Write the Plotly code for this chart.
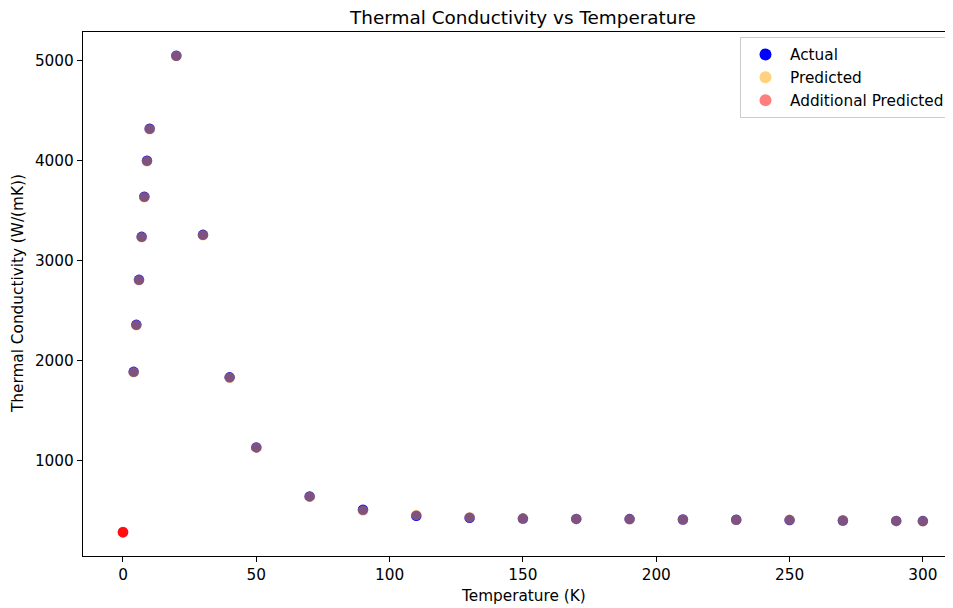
import plotly.graph_objects as go

# ---- data ----
temperature = [4, 5, 6, 7, 8, 9, 10, 20, 30, 40, 50, 70, 90, 110, 130, 150, 170, 190, 210, 230, 250, 270, 290, 300]
actual = [1890, 2360, 2810, 3240, 3640, 4000, 4320, 5050, 3260, 1835, 1135, 645, 512, 452, 432, 423, 420, 418, 414, 411, 408, 404, 400, 398]
predicted = [1885, 2355, 2805, 3236, 3636, 3996, 4316, 5048, 3256, 1832, 1132, 642, 503, 458, 436, 425, 418, 416, 413, 410, 412, 407, 398, 396]
additional_temperature = [0, 0, 0, 0]
additional_predicted = [285, 287, 289, 290]

x_ticks = [0, 50, 100, 150, 200, 250, 300]
y_ticks = [1000, 2000, 3000, 4000, 5000]

FONT = "DejaVu Sans"
FS = 15.3
OFF = 8  # browser body margin

W, H = 953 - OFF, 608 - OFF
L, T, B = 83 - OFF, 32 - OFF, 608 - 556
PW, PH = W - L, H - T - B

fig = go.Figure()
fig.add_trace(go.Scatter(
    x=temperature, y=actual, mode="markers", name="Actual", legendgroup="a",
    marker=dict(color="rgb(0,0,255)", size=10.5, line=dict(width=0)),
))
fig.add_trace(go.Scatter(
    x=temperature, y=predicted, mode="markers", name="Predicted", legendgroup="p",
    marker=dict(color="rgb(255,165,0)", size=10.5, opacity=0.5, line=dict(width=0)),
))
fig.add_trace(go.Scatter(
    x=additional_temperature, y=additional_predicted, mode="markers",
    name="Additional Predicted", legendgroup="ap",
    marker=dict(color="rgb(255,0,0)", size=10.5, opacity=0.5, line=dict(width=0)),
))

axis_common = dict(
    showgrid=False, zeroline=False, showline=True, linecolor="black", linewidth=1.2,
    ticks="outside", ticklen=5, tickwidth=1.2, tickcolor="black",
    tickfont=dict(family=FONT, size=FS, color="black"),
)

fig.update_layout(
    width=W, height=H,
    margin=dict(l=L, r=0, t=T, b=B, autoexpand=False),
    paper_bgcolor="white", plot_bgcolor="white",
    font=dict(family=FONT, size=FS, color="black"),
    title=dict(text="Thermal Conductivity vs Temperature", x=(523 - OFF) / W, xref="container",
               xanchor="center", y=1 - (18 - OFF) / H, yref="container", yanchor="middle",
               font=dict(family=FONT, size=18.4, color="black")),
    xaxis=dict(range=[-15, 311.3], tickvals=x_ticks, mirror=True, **axis_common),
    yaxis=dict(range=[49, 5288], tickvals=y_ticks, **axis_common),
    showlegend=True,
    legend=dict(x=(740 - 83) / PW, y=(556 - 37) / PH, xanchor="left", yanchor="top",
                bgcolor="rgba(255,255,255,0.8)", bordercolor="#cccccc", borderwidth=1,
                font=dict(family=FONT, size=FS, color="black"), tracegroupgap=0,
                itemsizing="constant", itemwidth=39),
    annotations=[
        dict(text="Temperature (K)", xref="paper", yref="paper",
             x=(523 - 83) / PW, y=(556 - 596) / PH, xanchor="center", yanchor="middle",
             showarrow=False, font=dict(family=FONT, size=FS, color="black")),
        dict(text="Thermal Conductivity (W/(mK))", xref="paper", yref="paper",
             x=(18 - 83) / PW, y=0.5, xanchor="center", yanchor="middle", textangle=-90,
             showarrow=False, font=dict(family=FONT, size=FS, color="black")),
    ],
)

fig.write_html("out.html")
